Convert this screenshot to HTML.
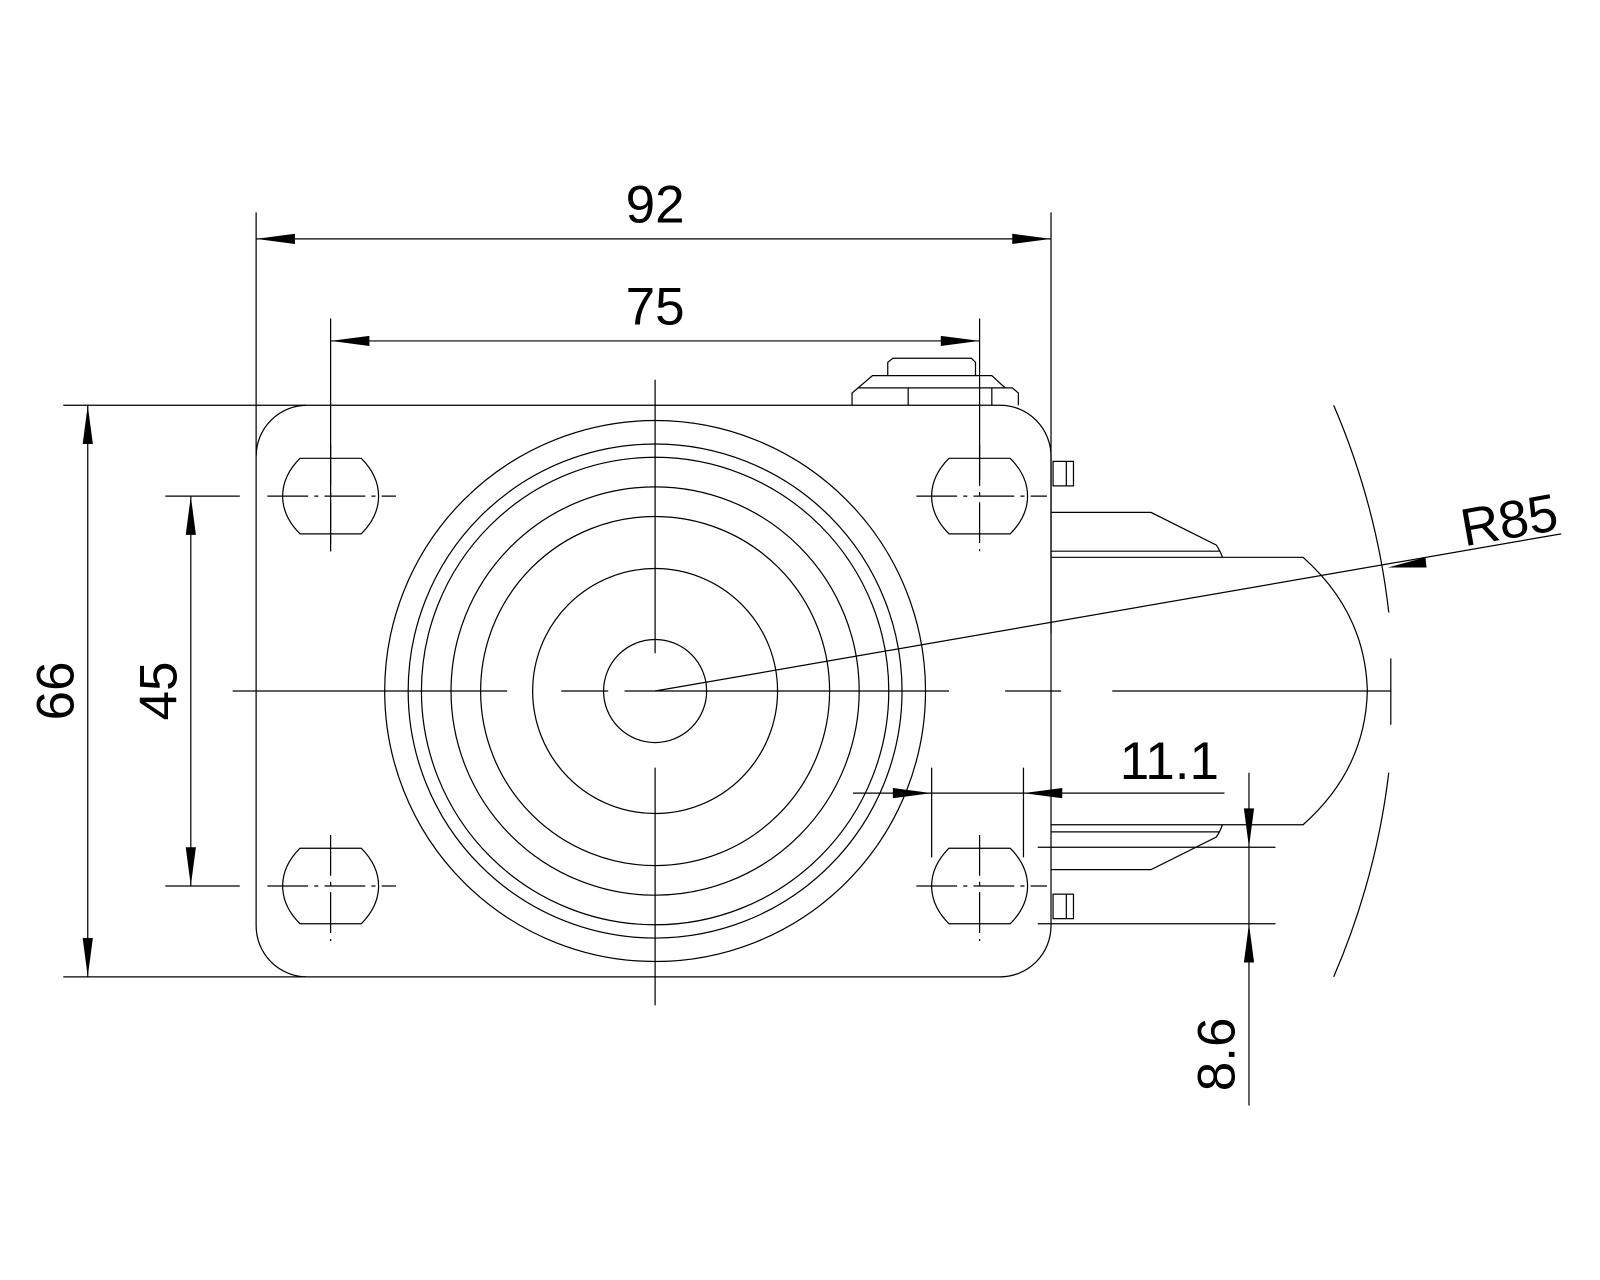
<!DOCTYPE html>
<html><head><meta charset="utf-8"><style>
html,body{margin:0;padding:0;background:#fff;}
svg{display:block;}
text{font-family:"Liberation Sans",sans-serif;fill:#000;}
</style></head><body>
<svg width="1600" height="1280" viewBox="0 0 1568 1254" preserveAspectRatio="none" xmlns="http://www.w3.org/2000/svg">
<defs>
<path id="s" fill="none" stroke="#000" stroke-width="1.2" d="M-30 -37 H30 Q47 -20 47 0 Q47 20 30 37 H-30 Q-47 20 -47 0 Q-47 -20 -30 -37 Z"/>
</defs>
<g fill="none" stroke="#000" stroke-width="1.2">
<!-- plate -->
<path d="M301 397 H980 A50 50 0 0 1 1030 447 V907 A50 50 0 0 1 980 957 H301 A50 50 0 0 1 251 907 V447 A50 50 0 0 1 301 397 Z"/>
<!-- nut -->
<path d="M835 397 V385 L841 380 H992 L998 385 V397"/>
<path d="M841 380 L855 368 H972 L985 380"/>
<path d="M870 368 V355 L875 351 H952 L956 355 V368"/>
<path d="M890 380 V397 M972 380 V397"/>
<!-- circles -->
<circle cx="642" cy="677" r="265"/>
<circle cx="642" cy="677" r="242"/>
<circle cx="642" cy="677" r="229"/>
<circle cx="642" cy="677" r="200"/>
<circle cx="642" cy="677" r="171"/>
<circle cx="642" cy="677" r="120"/>
<circle cx="642" cy="677" r="50.5"/>
<!-- slot centerlines -->
<g stroke-dasharray="40,6,4,6">
<path d="M262 486 H388 M898 486 H1026 M262 868 H388 M898 868 H1026"/>
<path d="M324 436 V540 M960 436 V540 M324 818 V922 M960 818 V922"/>
</g>
<!-- main centerlines -->
<path d="M642 372 V640 M642 752 V985 M228 677 H497 M550 677 H596 M612 677 H930 M985 677 H1040 M1090 677 H1363 M1363 645 V710"/>
<!-- fork -->
<path d="M1030 546 H1277 Q1338 600 1340 677 Q1338 754 1277 808 H1030"/>
<path d="M1030 502 H1128 L1192 534 Q1196 540 1198 546 M1030 540 H1195"/>
<path d="M1030 815 H1195 M1030 852 H1128 L1192 820 Q1196 814 1198 808"/>
<rect x="1032" y="452" width="20" height="24"/>
<path d="M1045 452 V476"/>
<rect x="1032" y="876" width="20" height="24"/>
<path d="M1045 876 V900"/>
<!-- big arc R85 -->
<path d="M1307 397 A720 720 0 0 1 1361 600"/>
<path d="M1361 757 A720 720 0 0 1 1307 957"/>
<path d="M642 677 L1530 523"/>
<!-- dims -->
<path d="M251 208 V447 M1030 208 V620 M251 234 H1030"/>
<path d="M324 312 V540 M960 312 V470 M324 334 H960"/>
<path d="M62 397 H300 M62 957 H300 M86 397 V957"/>
<path d="M162 486 H235 M162 868 H235 M187 486 V868"/>
<path d="M836 777 H1200 M913 752 V840 M1003 752 V840"/>
<path d="M1224 757 V1083 M1017 830 H1250 M1017 905 H1250"/>
</g>
<use href="#s" transform="translate(324,486)"/>
<use href="#s" transform="translate(960,486)"/>
<use href="#s" transform="translate(324,868)"/>
<use href="#s" transform="translate(960,868)"/>
<g fill="#000">
<polygon points="251,234 289,229 289,239"/>
<polygon points="1030,234 992,229 992,239"/>
<polygon points="324,334 362,329 362,339"/>
<polygon points="960,334 922,329 922,339"/>
<polygon points="86,397 81,435 91,435"/>
<polygon points="86,957 81,919 91,919"/>
<polygon points="187,486 182,524 192,524"/>
<polygon points="187,868 182,830 192,830"/>
<polygon points="913,777 875,772 875,782"/>
<polygon points="1003,777 1041,772 1041,782"/>
<polygon points="1224,830 1219,792 1229,792"/>
<polygon points="1224,905 1219,943 1229,943"/>
<polygon points="1360,556 1397,546 1398,556"/>
</g>
<g font-size="52">
<text x="642" y="218" text-anchor="middle">92</text>
<text x="642" y="318" text-anchor="middle">75</text>
<text x="1146" y="763" text-anchor="middle">11.1</text>
<text transform="translate(72,677) rotate(-90)" text-anchor="middle">66</text>
<text transform="translate(173,677) rotate(-90)" text-anchor="middle">45</text>
<text transform="translate(1210,1033) rotate(-90)" text-anchor="middle">8.6</text>
<text transform="translate(1482,527) rotate(-10)" text-anchor="middle">R85</text>
</g>
</svg>
</body></html>
